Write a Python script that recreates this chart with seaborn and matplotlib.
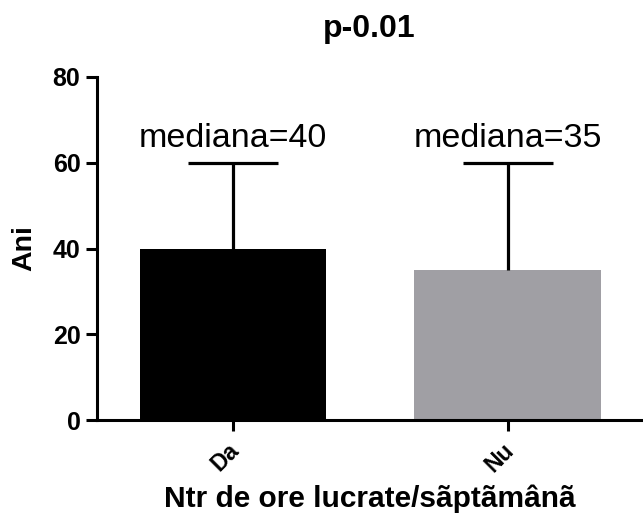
import matplotlib
matplotlib.use("Agg")
import matplotlib.pyplot as plt
import matplotlib.transforms as mtransforms
import seaborn as sns
import pandas as pd

categories = ["Da", "Nu"]
values = [40, 35]
upper = [60, 60]
labels = ["mediana=40", "mediana=35"]
colors = ["#000000", "#a09fa4"]

sns.set_style("ticks")
plt.rcParams['font.family'] = ['Liberation Sans', 'DejaVu Sans']
plt.rcParams.update({"text.color": "black", "axes.labelcolor": "black",
                     "xtick.color": "black", "ytick.color": "black",
                     "axes.edgecolor": "black"})

df = pd.DataFrame({"cat": categories, "val": values})

fig = plt.figure(figsize=(6.43, 5.20), dpi=100)
ax = fig.add_axes([0.151, 0.192, 0.847, 0.66])

sns.barplot(data=df, x="cat", y="val", hue="cat", palette=colors, width=0.68,
            legend=False, ax=ax, saturation=1, edgecolor="none")

xs = list(range(len(categories)))
ax.vlines(xs, values, upper, colors="black", linewidth=2.3, zorder=3)
ax.hlines(upper, [x - 0.165 for x in xs], [x + 0.165 for x in xs],
          colors="black", linewidth=2.3, zorder=3)

for i, (lab, u) in enumerate(zip(labels, upper)):
    ax.text(i, u + 3.7, lab, ha="center", va="baseline", fontsize=24.5, color="black")

ax.set_ylim(0, 80)
ax.set_xlim(-0.4945, 1.487)
ax.set_yticks([0, 20, 40, 60, 80])
ax.tick_params(axis="both", width=2.2, length=8, labelsize=18, pad=4, colors="black")
ax.tick_params(axis="x", labelsize=16.5)
offset = mtransforms.ScaledTranslation(-6 / 100, -2 / 100, fig.dpi_scale_trans)
for t in ax.get_yticklabels():
    t.set_fontweight("bold")
for t in ax.get_xticklabels():
    t.set_fontweight("bold")
    t.set_rotation(45)
    t.set_ha("right")
    t.set_rotation_mode("anchor")
    t.set_transform(t.get_transform() + offset)

ax.spines["left"].set_linewidth(2.2)
ax.spines["bottom"].set_linewidth(2.2)
ax.spines["left"].set_color("black")
ax.spines["bottom"].set_color("black")
sns.despine(ax=ax)

ax.set_ylabel("Ani", fontsize=20.5, fontweight="bold", labelpad=11, color="black")
ax.set_xlabel("Ntr de ore lucrate/sãptãmânã", fontsize=21.5, fontweight="bold", labelpad=6, color="black")
ax.set_title("p-0.01", fontsize=23, fontweight="bold", pad=29, color="black")

fig.savefig("out.png", dpi=100)
